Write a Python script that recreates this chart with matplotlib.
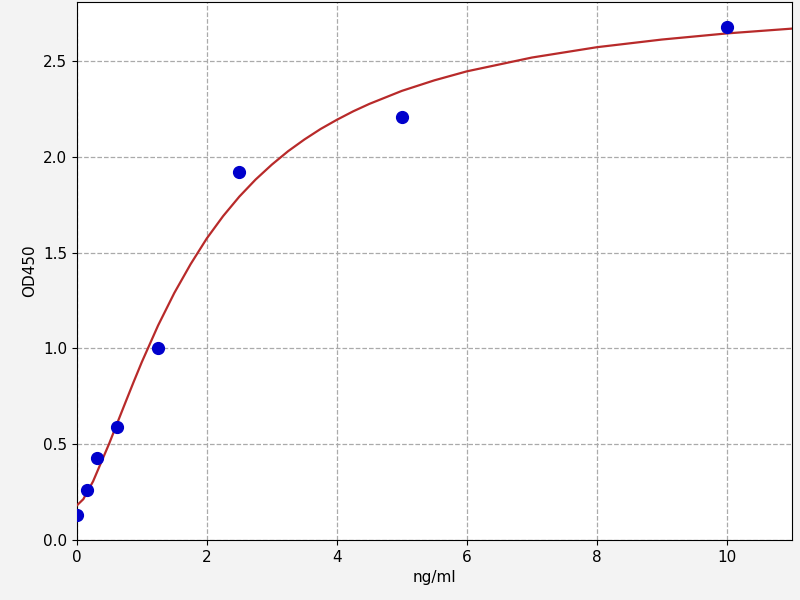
import numpy as np
import matplotlib
matplotlib.use("Agg")
import matplotlib.pyplot as plt

# standard points (concentration vs OD)
conc = [0.0, 0.156, 0.312, 0.625, 1.25, 2.5, 5.0, 10.0]
od = [0.13, 0.26, 0.43, 0.59, 1.00, 1.92, 2.21, 2.68]

# fitted curve
curve_x = [0.0, 0.1, 0.25, 0.5, 0.625, 0.75, 0.875, 1.0, 1.25, 1.5, 1.75, 2.0,
           2.25, 2.5, 2.75, 3.0, 3.25, 3.5, 3.75, 4.0, 4.25, 4.5, 5.0, 5.5,
           6.0, 7.0, 8.0, 9.0, 10.0, 11.0]
curve_y = [0.180, 0.213, 0.306, 0.505, 0.613, 0.720, 0.826, 0.929, 1.120, 1.290,
           1.440, 1.575, 1.691, 1.793, 1.882, 1.960, 2.030, 2.091, 2.146, 2.194,
           2.238, 2.277, 2.345, 2.400, 2.447, 2.519, 2.573, 2.613, 2.645, 2.670]


def main():
    fig = plt.figure(figsize=(8, 6), dpi=100, facecolor="#f3f3f3")
    ax = fig.add_axes([0.096, 0.1, 0.894, 0.897])
    ax.set_facecolor("white")

    ax.plot(curve_x, curve_y, color="#b82a2a", lw=1.6, zorder=3)
    ax.plot(conc, od, "o", color="#0000cc", markersize=8.5, zorder=4)

    ax.set_xlim(0, 11)
    ax.set_ylim(0, 2.81)
    ax.set_xticks([0, 2, 4, 6, 8, 10])
    ax.set_yticks([0.0, 0.5, 1.0, 1.5, 2.0, 2.5])
    ax.grid(True, linestyle="--", color="#aaaaaa", linewidth=0.9)
    ax.set_axisbelow(True)
    ax.tick_params(labelsize=11)

    ax.set_xlabel("ng/ml", fontsize=11)
    ax.set_ylabel("OD450", fontsize=11)

    fig.savefig("out.png", dpi=100, facecolor=fig.get_facecolor())


if __name__ == "__main__":
    main()
